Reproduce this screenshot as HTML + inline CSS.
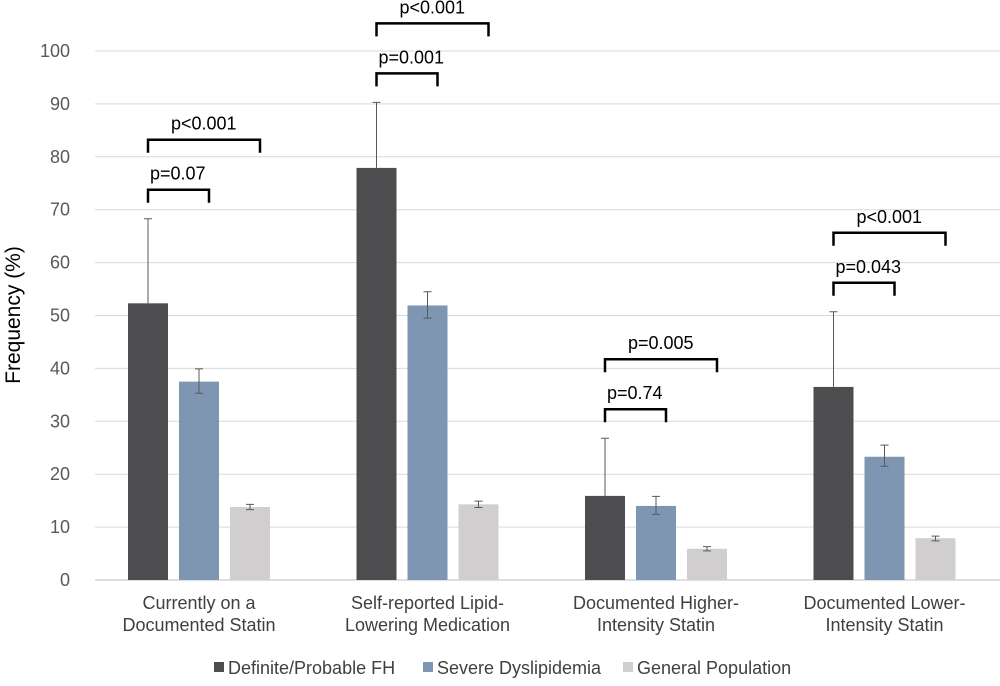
<!DOCTYPE html>
<html><head><meta charset="utf-8"><style>
body{margin:0;background:#fff;}
svg{font-family:"Liberation Sans",Arial,sans-serif;}
</style></head><body>
<svg id="chart" width="1000" height="681" viewBox="0 0 1000 681"></svg>
<script>
const categories=[["Currently on a","Documented Statin"],["Self-reported Lipid-","Lowering Medication"],["Documented Higher-","Intensity Statin"],["Documented Lower-","Intensity Statin"]];
const seriesNames=["Definite/Probable FH","Severe Dyslipidemia","General Population"];
const fhValues=[52.3,77.9,15.9,36.5];
const sdValues=[37.5,51.9,14.0,23.3];
const gpValues=[13.8,14.3,5.9,7.9];
const fhErrLow=[52.3,77.9,15.9,36.5];
const fhErrHigh=[68.3,90.3,26.8,50.7];
const sdErrLow=[35.3,49.5,12.4,21.5];
const sdErrHigh=[39.9,54.5,15.8,25.5];
const gpErrLow=[13.3,13.7,5.5,7.4];
const gpErrHigh=[14.3,14.9,6.3,8.3];
const yTicks=[0,10,20,30,40,50,60,70,80,90,100];
const pShort=["p=0.07","p=0.001","p=0.74","p=0.043"];
const pLong=["p<0.001","p<0.001","p=0.005","p<0.001"];
const colors=["#4d4d4f","#7f96b2","#d0cece"];
const svg=document.getElementById('chart');
const NS="http://www.w3.org/2000/svg";
function y(v){return 580-v*5.29;}
function gx(i){return 199+i*228.5;}
function bx(i,s){return gx(i)+(s-1)*51;}
function mk(t,a,txt){const e=document.createElementNS(NS,t);for(const k in a)e.setAttribute(k,a[k]);if(txt!==undefined)e.textContent=txt;svg.appendChild(e);return e;}
yTicks.forEach(t=>{
 const l=mk('line',{x1:95,x2:1000,y1:y(t),y2:y(t),stroke:t===0?'#bfbfbf':'#d9d9d9','stroke-width':1});
 
 
 const tx=mk('text',{x:70,y:y(t)+6,'text-anchor':'end','font-size':18,fill:'#595959'},t);
 
 
});
const yt=mk('text',{x:20,y:315,'text-anchor':'middle','font-size':21,fill:'#000',transform:'rotate(-90 20 315)'},'Frequency (%)');


const series=[[fhValues,fhErrLow,fhErrHigh],[sdValues,sdErrLow,sdErrHigh],[gpValues,gpErrLow,gpErrHigh]];
series.forEach((ser,s)=>{
 ser[0].forEach((v,i)=>{
  const cx=bx(i,s);
  const r=mk('rect',{x:cx-20,y:y(v),width:40,height:y(0)-y(v),fill:colors[s]});
  
  
  const lo=ser[1][i],hi=ser[2][i];
  const g=mk('path',{d:`M${cx},${y(lo)}V${y(hi)}M${cx-4},${y(hi)}H${cx+4}`+(lo<v?`M${cx-4},${y(lo)}H${cx+4}`:''),stroke:'#595959','stroke-width':1,fill:'none'});
  
  
 });
});
categories.forEach((c,i)=>{
 c.forEach((line,k)=>{
  const t=mk('text',{x:gx(i),y:609+k*22,'text-anchor':'middle','font-size':18,fill:'#404040'},line);
  
  
 });
 const top=Math.max(fhErrHigh[i],sdErrHigh[i]);
 const y1=y(top)-29, y2=y1-50;
 [[y1,bx(i,1)+10,pShort[i],2],[y2,bx(i,2)+10,pLong[i],23]].forEach(([yy,x2,lab,off],k)=>{
  const x1=bx(i,0);
  const p=mk('path',{d:`M${x1},${yy+13}V${yy}H${x2}V${yy+13}`,stroke:'#000','stroke-width':2.5,fill:'none'});
  
  
  const t=mk('text',{x:x1+off,y:yy-10,'font-size':18,fill:'#000'},lab);
  
  
 });
});
const legX=[214,423,623];
seriesNames.forEach((n,s)=>{
 const r=mk('rect',{x:legX[s],y:662,width:10,height:10,fill:colors[s]});
 
 
 const t=mk('text',{x:legX[s]+14,y:674,'font-size':18,fill:'#404040'},n);
 
 
});
</script>
</body></html>
